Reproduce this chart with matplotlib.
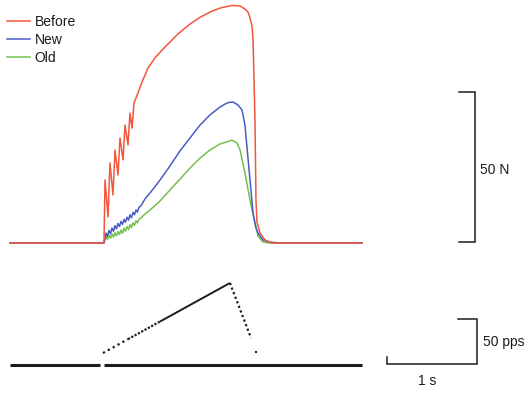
"""Force traces before / new / old with stimulation rate trace and scale bars."""
import matplotlib
matplotlib.use("Agg")
import matplotlib.pyplot as plt

plt.rcParams["font.family"] = ["Liberation Sans", "DejaVu Sans"]

# ── force traces (time in s, force in N) ──
before_t = [0, 1.044, 1.056, 1.089, 1.111, 1.144, 1.167, 1.2, 1.222, 1.256, 1.278,
            1.311, 1.333, 1.356, 1.378, 1.422, 1.467, 1.533, 1.611, 1.689, 1.778,
            1.867, 2.0, 2.111, 2.222, 2.333, 2.467, 2.556, 2.611, 2.644, 2.667,
            2.689, 2.7, 2.722, 2.733, 2.744, 2.778, 2.833, 2.911, 3.911]
before_f = [0, 0, 21, 8.7, 26.7, 16, 31, 22.7, 35, 27.7, 39.3,
            32.7, 43.3, 38.3, 46.7, 50, 53.7, 58.3, 61.7, 64.3, 67,
            69.7, 73, 75.2, 77, 78.3, 79.2, 79, 78, 77, 75,
            72.3, 68.3, 41, 14.3, 7, 3.3, 1, 0, 0]

new_t = [0, 1.044, 1.067, 1.083, 1.1, 1.117, 1.133, 1.15, 1.167, 1.183, 1.2,
         1.217, 1.233, 1.25, 1.267, 1.283, 1.3, 1.317, 1.333, 1.35, 1.367,
         1.383, 1.4, 1.417, 1.433, 1.456, 1.5, 1.556, 1.611, 1.667, 1.778,
         1.889, 2.0, 2.111, 2.222, 2.333, 2.389, 2.422, 2.478, 2.533, 2.578,
         2.611, 2.633, 2.667, 2.7, 2.733, 2.756, 2.811, 2.889, 3.0, 3.911]
new_f = [0, 0, 3.3, 2.2, 4.2, 3.1, 5.0, 3.9, 5.8, 4.7, 6.5,
         5.5, 7.2, 6.2, 7.9, 6.9, 8.6, 7.6, 9.4, 8.4, 10.2,
         9.4, 11.0, 10.3, 11.9, 12.4, 14.7, 16.7, 18.8, 21, 25.7,
         30.7, 35, 39.3, 42.7, 45.3, 46.3, 46.8, 47, 46, 44.3,
         39.3, 32, 21, 10, 5, 3.3, 1, 0.3, 0, 0]

old_t = [0, 1.044, 1.067, 1.083, 1.1, 1.117, 1.133, 1.15, 1.167, 1.183, 1.2,
         1.217, 1.233, 1.25, 1.267, 1.283, 1.3, 1.317, 1.333, 1.35, 1.367,
         1.383, 1.4, 1.417, 1.433, 1.456, 1.5, 1.556, 1.667, 1.778, 1.889,
         2.0, 2.111, 2.222, 2.333, 2.411, 2.467, 2.522, 2.556, 2.611, 2.667,
         2.722, 2.756, 2.811, 2.889, 3.911]
old_f = [0, 0, 2.2, 1.2, 2.6, 1.6, 3.0, 2.0, 3.4, 2.4, 3.8,
         2.8, 4.3, 3.3, 4.9, 3.9, 5.5, 4.5, 6.1, 5.1, 6.7,
         5.9, 7.4, 6.7, 8.0, 8.4, 9.7, 11, 14, 17.7, 21.3,
         25, 28.3, 31, 33, 33.7, 34.3, 33.3, 31, 23.3, 14.3,
         6.7, 2.3, 0.3, 0, 0]

# ── stimulation rate (pps) ──
stim_base_t = [[0, 1.0], [1.044, 3.911]]
stim_rise_t = [1.033, 1.311, 1.667, 2.444]
stim_rise_r = [13.3, 28.7, 48.3, 91.1]
stim_fall_t = [2.444, 2.678]
stim_fall_r = [91.1, 30.0]
stim_last_t = [2.733]
stim_last_r = [14.4]

labels = ["Before", "New", "Old"]
colors = ["#f2563c", "#4a5cc4", "#72c14c"]
ink = "#1c1c1c"


def main() -> None:
    fig = plt.figure(figsize=(5.32, 3.93), dpi=100)
    ax_f = fig.add_axes([0, 0, 1, 1])
    ax_s = fig.add_axes([0, 0, 1, 1])
    for ax in (ax_f, ax_s):
        ax.set_xlim(-0.1111, 5.8)
        ax.axis("off")
        ax.patch.set_alpha(0)
    ax_f.set_ylim(-50, 81)
    ax_s.set_ylim(-31.11, 405.56)

    # force traces (green under blue under red)
    ax_f.plot(old_t, old_f, color=colors[2], lw=1.1, label=labels[2], zorder=2)
    ax_f.plot(new_t, new_f, color=colors[1], lw=1.1, label=labels[1], zorder=3)
    ax_f.plot(before_t, before_f, color=colors[0], lw=1.1, label=labels[0], zorder=4)

    h, l = ax_f.get_legend_handles_labels()
    ax_f.legend(h[::-1], l[::-1], loc="upper left",
                bbox_to_anchor=(7 / 532, 1 - 15 / 393), bbox_transform=fig.transFigure,
                frameon=False, fontsize=10, handlelength=1.65, handletextpad=0.35,
                labelspacing=0.3, borderpad=0, borderaxespad=0, labelcolor=ink)

    # stimulation trace
    for seg in stim_base_t:
        ax_s.plot(seg, [0, 0], color=ink, lw=2.2, solid_capstyle="butt")
    ax_s.plot(stim_rise_t[:2], stim_rise_r[:2], color=ink, lw=1.6,
              ls=(0, (1, 1.5)), dash_capstyle="butt")
    ax_s.plot(stim_rise_t[1:3], stim_rise_r[1:3], color=ink, lw=1.6,
              ls=(0, (1, 0.7)), dash_capstyle="butt")
    ax_s.plot(stim_rise_t[2:], stim_rise_r[2:], color=ink, lw=1.4,
              solid_capstyle="butt")
    ax_s.plot(stim_fall_t, stim_fall_r, color=ink, lw=1.6,
              ls=(0, (1, 1.2)), dash_capstyle="butt")
    ax_s.plot(stim_last_t, stim_last_r, "s", color=ink, ms=1.8, mew=0)

    # scale bars
    ax_f.plot([4.989, 5.167, 5.167, 4.989], [50.3, 50.3, 0.3, 0.3],
              color=ink, lw=1.1, solid_joinstyle="miter")
    ax_f.text(5.222, 24.3, "50 N", fontsize=10, color=ink, va="center", ha="left")

    ax_s.plot([4.978, 5.189, 5.189, 4.189, 4.189], [51, 51, 1, 1, 8.9],
              color=ink, lw=1.1, solid_joinstyle="miter")
    ax_s.text(5.256, 25.6, "50 pps", fontsize=10, color=ink, va="center", ha="left")
    ax_s.text(4.633, -17.8, "1 s", fontsize=10, color=ink, va="center", ha="center")

    fig.savefig("out.png", dpi=100, facecolor="white")
    plt.close(fig)


if __name__ == "__main__":
    main()
